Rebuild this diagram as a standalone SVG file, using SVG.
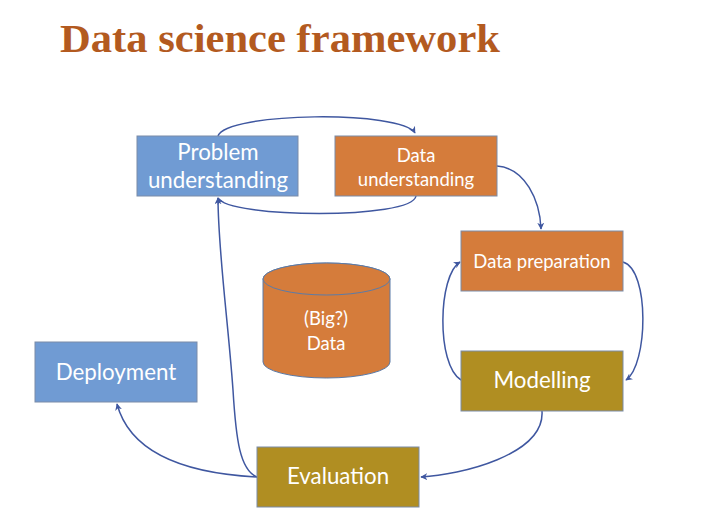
<svg xmlns="http://www.w3.org/2000/svg" width="712" height="525" viewBox="0 0 712 525">
  <style>
    .title { font-family: "Liberation Serif", "DejaVu Serif", serif; font-weight: bold; font-size: 39px; fill: #B35A1F; }
    .box { stroke: #7A8BA8; stroke-width: 1; }
    .blue { fill: #709BD3; }
    .orange { fill: #D57C3B; }
    .olive { fill: #B08E22; }
    .lbl { font-family: Lato, "Liberation Sans", sans-serif; fill: #FFFFFF; text-anchor: middle; }
    .big { font-size: 22.3px; }
    .small { font-size: 18.5px; }
    .edge { fill: none; stroke: #3F57A0; stroke-width: 1.5; }
  </style>
  <defs>
    <marker id="arrow" viewBox="0 0 10 10" refX="9" refY="5" markerWidth="7" markerHeight="7" orient="auto" markerUnits="userSpaceOnUse">
      <path d="M0,0 L10,5 L0,10 L3,5 Z" fill="#3F57A0"/>
    </marker>
  </defs>

  <rect width="712" height="525" fill="#FFFFFF"/>

  <text class="title" x="60" y="52" textLength="440" lengthAdjust="spacingAndGlyphs">Data science framework</text>

  <g id="connectors">
    <!-- problem understanding -> data understanding (over the top) -->
    <path class="edge" d="M218,136 C226,112 402,110 415,133" marker-end="url(#arrow)"/>
    <!-- data understanding -> problem understanding (underneath) -->
    <path class="edge" d="M416,196 C412,220 228,218 218,198" marker-end="url(#arrow)"/>
    <!-- data understanding -> data preparation -->
    <path class="edge" d="M497,166 C525,168 540,200 541,229" marker-end="url(#arrow)"/>
    <!-- data preparation -> modelling -->
    <path class="edge" d="M623,262 C650,270 648,365 626,380" marker-end="url(#arrow)"/>
    <!-- modelling -> data preparation -->
    <path class="edge" d="M461,380 C436,365 438,275 460,262" marker-end="url(#arrow)"/>
    <!-- modelling -> evaluation -->
    <path class="edge" d="M542,411 C545,455 460,475 421,477" marker-end="url(#arrow)"/>
    <!-- evaluation -> problem understanding -->
    <path class="edge" d="M257,477 C240,470 236,440 233,390 C228,320 218,250 218,198" marker-end="url(#arrow)"/>
    <!-- evaluation -> deployment -->
    <path class="edge" d="M257,477 C200,474 132,460 117,404" marker-end="url(#arrow)"/>
  </g>

  <g id="problem-understanding">
    <rect class="box blue" x="137" y="136" width="161" height="60"/>
    <text class="lbl big" x="218" y="160">Problem</text>
    <text class="lbl big" x="218" y="188">understanding</text>
  </g>

  <g id="data-understanding">
    <rect class="box orange" x="335" y="136" width="162" height="60"/>
    <text class="lbl small" x="416" y="162">Data</text>
    <text class="lbl small" x="416" y="186">understanding</text>
  </g>

  <g id="data-preparation">
    <rect class="box orange" x="461" y="231" width="162" height="60"/>
    <text class="lbl small" x="542" y="268">Data preparation</text>
  </g>

  <g id="modelling">
    <rect class="box olive" x="461" y="351" width="162" height="60"/>
    <text class="lbl big" x="542" y="388">Modelling</text>
  </g>

  <g id="deployment">
    <rect class="box blue" x="35" y="342" width="162" height="60"/>
    <text class="lbl big" x="116" y="380">Deployment</text>
  </g>

  <g id="evaluation">
    <rect class="box olive" x="257" y="447" width="162" height="60"/>
    <text class="lbl big" x="338" y="484">Evaluation</text>
  </g>

  <g id="data-store">
    <path class="orange" stroke="#5B7BA8" stroke-width="1" d="M263,279 L263,362 A63.5,16 0 0 0 390,362 L390,279 A63.5,16 0 0 0 263,279 Z"/>
    <ellipse class="orange" stroke="#5B7BA8" stroke-width="1" cx="326.5" cy="279" rx="63.5" ry="16"/>
    <text class="lbl small" x="326" y="325">(Big?)</text>
    <text class="lbl small" x="326" y="350">Data</text>
  </g>
</svg>
